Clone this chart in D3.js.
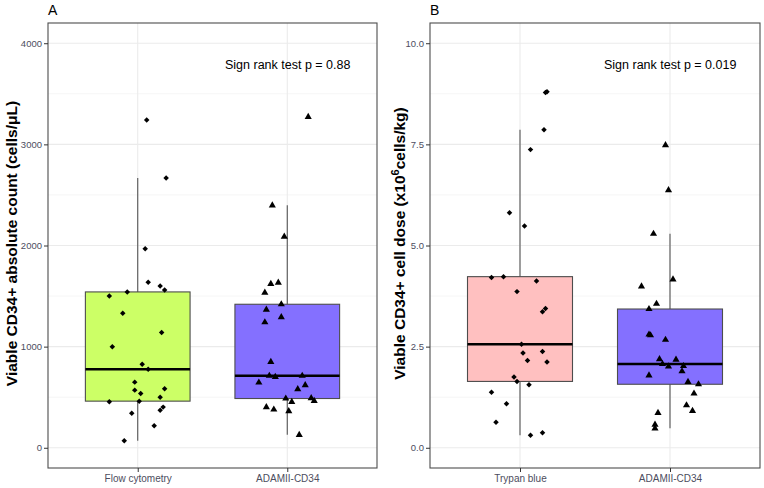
<!DOCTYPE html>
<html>
<head>
<meta charset="utf-8">
<script src="https://cdn.jsdelivr.net/npm/d3@7"></script>
<style>
  body { margin: 0; background: #fff; }
  svg { font-family: "Liberation Sans", Arial, sans-serif; }
</style>
</head>
<body>
<div id="chart"></div>
<script>
// two-panel boxplot with jittered points (A: absolute count, B: cell dose)

const catsA = ["Flow cytometry", "ADAMII-CD34"];
const catsB = ["Trypan blue", "ADAMII-CD34"];

// panel A values (cells/uL)
const flowVals = [3240, 2667, 1968, 1636, 1600, 1560, 1541, 1501, 1330, 1139, 998, 826, 777, 649, 583, 570, 537, 500, 454, 461, 342, 402, 372, 217, 69];
const flowJit  = [0.06, 0.19, 0.05, 0.07, 0.15, 0.18, -0.07, -0.19, -0.10, 0.16, -0.17, 0.03, 0.07, -0.02, 0.18, -0.02, 0.02, 0.15, -0.19, 0.01, -0.04, 0.17, 0.15, 0.11, -0.09];
const adamAVals = [3272, 2397, 2087, 1633, 1620, 1534, 1419, 1366, 1291, 1241, 849, 712, 712, 700, 645, 619, 580, 487, 491, 464, 454, 402, 378, 362, 128];
const adamAJit  = [0.14, -0.10, -0.02, -0.06, -0.11, -0.15, -0.04, -0.14, -0.04, -0.15, -0.11, -0.12, 0.10, -0.08, -0.19, 0.12, 0.07, -0.01, 0.16, 0.18, 0.03, -0.14, -0.09, 0.01, 0.08];

// panel B values (x10^6 cells/kg)
const trypanVals = [8.80, 8.78, 7.86, 7.37, 5.81, 5.48, 4.21, 4.23, 4.12, 3.86, 3.44, 3.36, 2.56, 2.34, 2.38, 2.16, 2.12, 1.75, 1.64, 1.56, 1.37, 1.09, 0.63, 0.37, 0.31];
const trypanJit  = [0.18, 0.17, 0.16, 0.07, -0.07, 0.03, -0.19, -0.11, 0.11, -0.02, 0.17, 0.15, 0.01, 0.02, 0.15, 0.05, 0.18, -0.04, -0.02, 0.06, -0.19, -0.09, -0.16, 0.15, 0.07];
const adamBVals = [7.48, 6.37, 5.29, 4.16, 3.99, 3.56, 3.43, 2.80, 2.78, 2.67, 2.19, 2.18, 2.07, 2.01, 2.02, 1.89, 1.79, 1.63, 1.57, 1.34, 1.05, 0.91, 0.86, 0.57, 0.48];
const adamBJit  = [-0.03, -0.01, -0.11, 0.02, -0.19, -0.09, -0.14, -0.14, -0.13, -0.03, -0.07, 0.04, -0.05, -0.01, 0.09, 0.08, -0.14, 0.12, 0.19, 0.16, 0.11, 0.15, -0.08, -0.10, -0.10];

const ticksA = [0, 1000, 2000, 3000, 4000];
const minorA = [500, 1500, 2500, 3500];
const ticksB = [0, 2.5, 5, 7.5, 10];
const minorB = [1.25, 3.75, 6.25, 8.75];

const W = 764, H = 488;
const svg = d3.select("#chart").append("svg")
  .attr("width", W).attr("height", H);

function drawPanel(o) {
  const g = svg.append("g");
  const x = d3.scalePoint().domain(o.cats).range([o.left, o.right]).padding(0.6);
  const y = d3.scaleLinear().domain(o.domain).range([o.bottom, o.top]);
  const bw = x.step() * 0.7;

  // grid
  g.selectAll(".minor").data(o.minor).enter().append("line")
    .attr("x1", o.left).attr("x2", o.right)
    .attr("y1", d => y(d)).attr("y2", d => y(d))
    .attr("stroke", "#f2f2f2").attr("stroke-width", 0.8);
  g.selectAll(".major").data(o.ticks).enter().append("line")
    .attr("x1", o.left).attr("x2", o.right)
    .attr("y1", d => y(d)).attr("y2", d => y(d))
    .attr("stroke", "#ebebeb").attr("stroke-width", 1.1);
  g.selectAll(".vgrid").data(o.cats).enter().append("line")
    .attr("x1", d => x(d)).attr("x2", d => x(d))
    .attr("y1", o.top).attr("y2", o.bottom)
    .attr("stroke", "#ebebeb").attr("stroke-width", 1.1);

  // boxes
  o.groups.forEach((grp, i) => {
    const s = grp.vals.slice().sort(d3.ascending);
    const q1 = d3.quantile(s, 0.25), med = d3.quantile(s, 0.5), q3 = d3.quantile(s, 0.75);
    const iqr = q3 - q1;
    const hi = d3.max(s.filter(v => v <= q3 + 1.5 * iqr));
    const lo = d3.min(s.filter(v => v >= q1 - 1.5 * iqr));
    const cx = x(o.cats[i]);
    g.append("line").attr("x1", cx).attr("x2", cx).attr("y1", y(q3)).attr("y2", y(hi))
      .attr("stroke", "#555").attr("stroke-width", 1.1);
    g.append("line").attr("x1", cx).attr("x2", cx).attr("y1", y(q1)).attr("y2", y(lo))
      .attr("stroke", "#555").attr("stroke-width", 1.1);
    g.append("rect")
      .attr("x", cx - bw / 2).attr("width", bw)
      .attr("y", y(q3)).attr("height", y(q1) - y(q3))
      .attr("fill", grp.color).attr("stroke", "#4d4d4d").attr("stroke-width", 1.1);
    g.append("line").attr("x1", cx - bw / 2).attr("x2", cx + bw / 2)
      .attr("y1", y(med)).attr("y2", y(med))
      .attr("stroke", "#000").attr("stroke-width", 2.4);

    // jittered points: diamond = square turned 45deg, like ggplot shape 18
    const isTri = grp.shape === "triangle";
    const sym = d3.symbol().type(isTri ? d3.symbolTriangle : d3.symbolSquare).size(isTri ? 22 : 15);
    g.selectAll(".pt" + i).data(grp.vals).enter().append("path")
      .attr("d", sym)
      .attr("transform", (d, j) => {
        const px = cx + grp.jit[j] * x.step();
        return `translate(${px},${y(d)})` + (isTri ? "" : " rotate(45)");
      })
      .attr("fill", "#000");
  });

  // border
  g.append("rect").attr("x", o.left).attr("y", o.top)
    .attr("width", o.right - o.left).attr("height", o.bottom - o.top)
    .attr("fill", "none").attr("stroke", "#4d4d4d").attr("stroke-width", 1.1);

  // axes
  const ya = g.append("g").attr("transform", `translate(${o.left},0)`)
    .call(d3.axisLeft(y).tickValues(o.ticks).tickFormat(o.fmt).tickSize(4).tickPadding(2));
  ya.select(".domain").remove();
  ya.selectAll("line").attr("stroke", "#333");
  ya.selectAll("text").attr("fill", "#4d4d5e").attr("font-size", "9.5px")
    .attr("font-family", "Liberation Sans, Arial, sans-serif");

  const xa = g.append("g").attr("transform", `translate(0,${o.bottom})`)
    .call(d3.axisBottom(x).tickSize(4).tickPadding(3));
  xa.select(".domain").remove();
  xa.selectAll("line").attr("stroke", "#333");
  xa.selectAll("text").attr("fill", "#4d4d5e").attr("font-size", "10px")
    .attr("font-family", "Liberation Sans, Arial, sans-serif");

  // panel letter
  svg.append("text").attr("x", o.left).attr("y", 15)
    .attr("font-size", "14px").attr("fill", "#000").text(o.letter);

  // annotation
  svg.append("text").attr("x", o.annoX).attr("y", 69)
    .attr("font-size", "12.5px").attr("fill", "#000").text(o.anno);

  // y title
  const t = svg.append("text")
    .attr("transform", `translate(${o.titleX},${(o.top + o.bottom) / 2 - 2}) rotate(-90)`)
    .attr("text-anchor", "middle").attr("font-size", "15.5px").attr("font-weight", "bold")
    .attr("fill", "#000");
  o.title(t);
}

drawPanel({
  letter: "A", cats: catsA, left: 48, right: 377, top: 23, bottom: 468,
  domain: [-200, 4200], ticks: ticksA, minor: minorA, fmt: d3.format("d"),
  groups: [
    { vals: flowVals, jit: flowJit, color: "#ccff66", shape: "diamond" },
    { vals: adamAVals, jit: adamAJit, color: "#8470ff", shape: "triangle" }
  ],
  anno: "Sign rank test p = 0.88", annoX: 225, titleX: 17,
  title: t => t.text("Viable CD34+ absolute count (cells/\u03bcL)")
});

drawPanel({
  letter: "B", cats: catsB, left: 430, right: 760, top: 23, bottom: 468,
  domain: [-0.5, 10.5], ticks: ticksB, minor: minorB, fmt: d3.format(".1f"),
  groups: [
    { vals: trypanVals, jit: trypanJit, color: "#ffc0c0", shape: "diamond" },
    { vals: adamBVals, jit: adamBJit, color: "#8470ff", shape: "triangle" }
  ],
  anno: "Sign rank test p = 0.019", annoX: 604, titleX: 405,
  title: t => {
    t.append("tspan").text("Viable CD34+ cell dose (x10");
    t.append("tspan").attr("baseline-shift", "super").attr("font-size", "11px").text("6");
    t.append("tspan").text("cells/kg)");
  }
});
</script>
</body>
</html>
